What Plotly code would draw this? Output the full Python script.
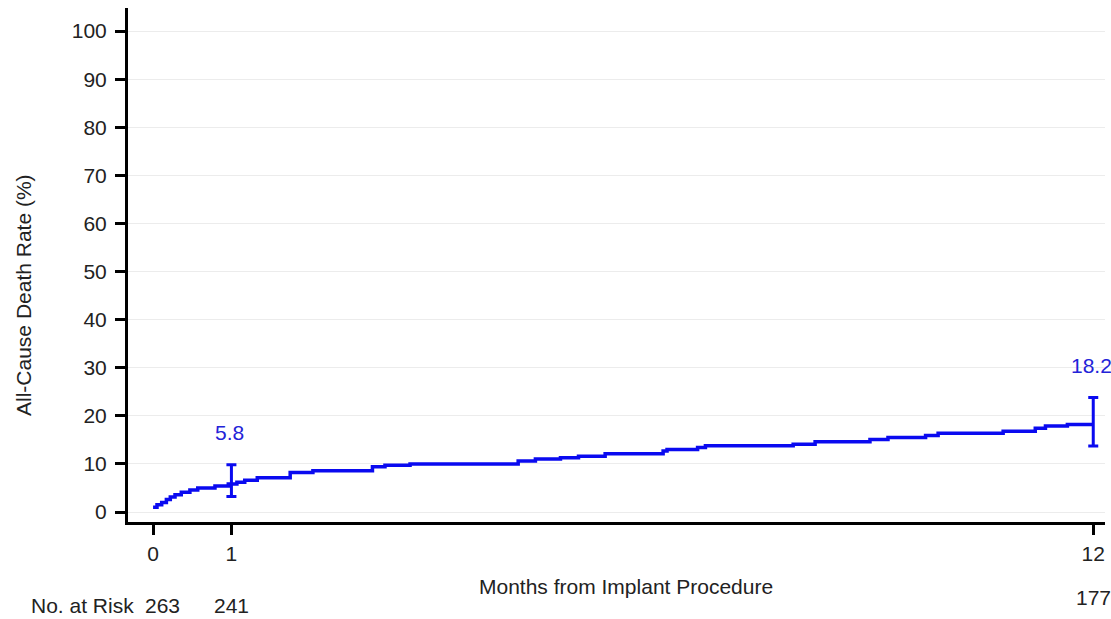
import plotly.graph_objects as go

# Kaplan-Meier style cumulative all-cause death rate (%)
months = [0.0, 0.05, 0.11, 0.17, 0.22, 0.28, 0.36, 0.47, 0.57, 0.79, 0.96, 1.07, 1.17,
          1.33, 1.75, 2.04, 2.80, 2.96, 3.28, 4.66, 4.88, 5.20, 5.43, 5.77, 6.51, 6.56,
          6.95, 7.05, 8.17, 8.45, 9.15, 9.38, 9.86, 10.02, 10.85, 11.26, 11.39, 11.67, 12.0]
rate = [1.0, 1.5, 2.0, 2.6, 3.1, 3.6, 4.1, 4.6, 5.0, 5.4, 5.8, 6.2, 6.6,
        7.1, 8.2, 8.6, 9.4, 9.7, 10.0, 10.6, 11.0, 11.3, 11.6, 12.1, 12.7, 13.0,
        13.4, 13.8, 14.1, 14.6, 15.1, 15.5, 15.9, 16.4, 16.8, 17.4, 17.9, 18.2, 18.2]

# Point estimates with confidence intervals
ci_months = [1, 12]
ci_value = [5.8, 18.2]
ci_upper = [9.8, 23.8]
ci_lower = [3.2, 13.7]
ci_labels = ["5.8", "18.2"]

# Number at risk
risk_months = [0, 1, 12]
risk_counts = ["263", "241", "177"]

x_ticks = [0, 1, 12]
y_ticks = list(range(0, 101, 10))

BLUE = "#0a0af0"
TEXT_BLUE = "#2323d8"
FONT = "Arial, Liberation Sans, sans-serif"
FS = 21

fig = go.Figure()
fig.add_trace(go.Scatter(
    x=months, y=rate, mode="lines", line=dict(color=BLUE, width=3.5, shape="hv"),
    hoverinfo="skip", showlegend=False))

fig.add_trace(go.Scatter(
    x=ci_months, y=ci_value, mode="markers", marker=dict(size=0.1, color=BLUE),
    error_y=dict(type="data", symmetric=False,
                 array=[u - v for u, v in zip(ci_upper, ci_value)],
                 arrayminus=[v - l for v, l in zip(ci_value, ci_lower)],
                 color=BLUE, thickness=3, width=5),
    hoverinfo="skip", showlegend=False))

annotations = []
for t, u, lab in zip(ci_months, ci_upper, ci_labels):
    annotations.append(dict(x=t, y=u, xref="x", yref="y", text=lab, showarrow=False,
                            font=dict(family=FONT, size=FS, color=TEXT_BLUE),
                            yanchor="bottom", yshift=19 if t == 1 else 19,
                            xshift=-2))

annotations.append(dict(x=0.0085, y=-0.163, xref="paper", yref="paper", text="No. at Risk",
                        showarrow=False, xanchor="right", yanchor="middle",
                        font=dict(family=FONT, size=FS, color="#222")))
for t, n in zip(risk_months, risk_counts):
    annotations.append(dict(x=t, y=-0.146 if t == 12 else -0.163, xref="x", yref="paper",
                            text=n, showarrow=False, xanchor="center", yanchor="middle",
                            xshift=9 if t == 0 else 0,
                            font=dict(family=FONT, size=FS, color="#222")))

annotations.append(dict(x=0.51, y=-0.126, xref="paper", yref="paper",
                        text="Months from Implant Procedure", showarrow=False,
                        xanchor="center", yanchor="middle",
                        font=dict(family=FONT, size=FS, color="#222")))
annotations.append(dict(x=-0.1075, y=0.4416, xref="paper", yref="paper",
                        text="All-Cause Death Rate (%)", showarrow=False, textangle=-90,
                        xanchor="center", yanchor="middle",
                        font=dict(family=FONT, size=FS, color="#222")))

fig.update_layout(
    width=1111, height=619,
    margin=dict(l=128, r=6, t=8, b=97),
    paper_bgcolor="white", plot_bgcolor="white",
    font=dict(family=FONT, size=FS, color="#222"),
    annotations=annotations,
    xaxis=dict(range=[-0.32, 12.15], tickvals=x_ticks, ticktext=[str(v) for v in x_ticks],
               showgrid=False, zeroline=False, showline=True, linecolor="black",
               linewidth=3, ticks="outside", ticklen=10, tickwidth=3, tickcolor="black",
               ticklabelstandoff=1, tickfont=dict(family=FONT, size=FS, color="#222")),
    yaxis=dict(range=[-2.08, 104.8], tickvals=y_ticks, showgrid=True, gridcolor="#ececec",
               gridwidth=1, zeroline=False, showline=True, linecolor="black",
               linewidth=3, ticks="outside", ticklen=10, tickwidth=3, tickcolor="black",
               ticklabelstandoff=4, tickfont=dict(family=FONT, size=FS, color="#222")),
)

fig.write_html("out.html")
